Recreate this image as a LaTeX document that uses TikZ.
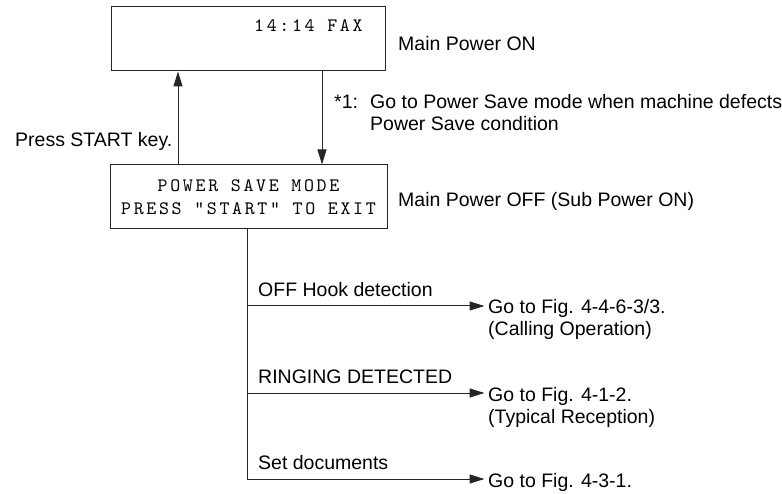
\documentclass[tikz,border=0pt]{standalone}
\usepackage{fontspec}
\setmainfont{Liberation Sans}
\newfontfamily\lcd[LetterSpace=14]{lmmono10-regular.otf}
\usetikzlibrary{arrows.meta}
\begin{document}
\begin{tikzpicture}[x=1pt,y=-1pt,
  line/.style={draw=black!85, line width=1pt},
  arr/.style={line, -{Triangle[length=15pt,width=9pt]}},
  lbl/.style={font=\fontsize{19.5}{22}\selectfont, inner sep=0pt, anchor=base west},
  lcdbox/.style={line, rectangle, inner sep=0pt},
  lcdtxt/.style={font=\lcd\fontsize{19}{23.3}\selectfont, inner sep=0pt}]
\useasboundingbox (0,0) rectangle (782,494);
% display boxes
\node[lcdbox, minimum width=274pt, minimum height=64pt] (b1) at (248,39) {};
\node[lcdtxt, anchor=base west] (t1) at (254,32) {14:14 FAX};
\node[lcdbox, lcdtxt, align=center, minimum width=277pt, minimum height=64pt] (b2) at (248.5,197) {POWER SAVE MODE\\PRESS "START" TO EXIT};
% side labels
\node[lbl] (mpon) at (398,51) {Main Power ON};
\node[lbl] (n1) at (334,109) {*1:};
\node[lbl] (n1a) at (370,109) {Go to Power Save mode when machine defects};
\node[lbl] (n1b) at (370,131) {Power Save condition};
\node[lbl] (press) at (15,147) {Press START key.};
\node[lbl] (mpoff) at (398,207) {Main Power OFF (Sub Power ON)};
% vertical arrows between boxes
\coordinate (ux) at (178,0);
\coordinate (dx) at (322,0);
\draw[arr] (b2.north -| ux) -- (b1.south -| ux);
\draw[arr] (b1.south -| dx) -- (b2.north -| dx);
% branches
\coordinate (br1) at (247,306);
\coordinate (br2) at (247,393);
\coordinate (br3) at (247,479);
\node[lbl] (c1) at (258,297) {OFF Hook detection};
\node[lbl] (c2) at (258,383) {RINGING DETECTED};
\node[lbl] (c3) at (258,469) {Set documents};
\node[lbl] (g1) at (488,314) {Go to Fig. 4-4-6-3/3.};
\node[lbl] (g1b) at (488,336) {(Calling Operation)};
\node[lbl] (g2) at (488,401) {Go to Fig. 4-1-2.};
\node[lbl] (g2b) at (488,423) {(Typical Reception)};
\node[lbl] (g3) at (488,487) {Go to Fig. 4-3-1.};
\draw[line] (b2.south -| br1) -- (br3);
\draw[arr, shorten >=3.5pt] (br1) -- (br1 -| g1.west);
\draw[arr, shorten >=3.5pt] (br2) -- (br2 -| g2.west);
\draw[arr, shorten >=3.5pt] (br3) -- (br3 -| g3.west);
\end{tikzpicture}
\end{document}
